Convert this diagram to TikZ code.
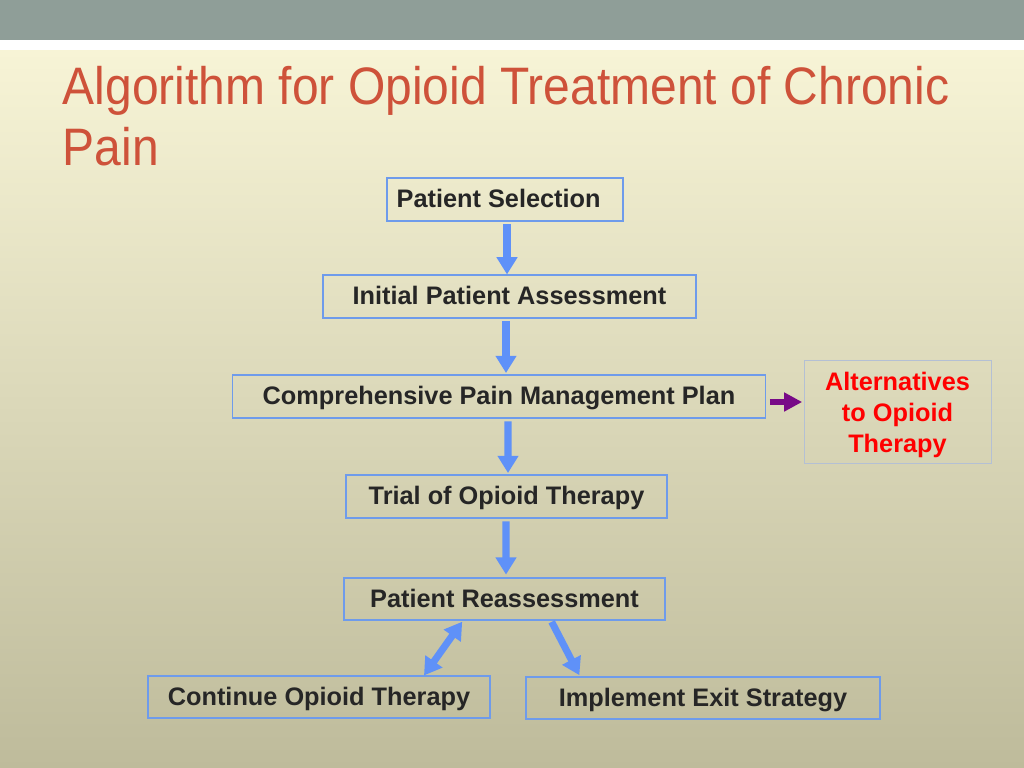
\documentclass[tikz,border=0pt]{standalone}
\usepackage{fontspec}
\setmainfont{Liberation Sans}
\newfontfamily\titlefont[FakeStretch=0.91]{Liberation Sans}
\usetikzlibrary{arrows.meta,calc}

\definecolor{barcol}{RGB}{143,158,152}
\definecolor{bgtop}{RGB}{247,244,214}
\definecolor{bgbot}{RGB}{190,187,155}
\definecolor{titlecol}{RGB}{206,82,58}
\definecolor{boxline}{RGB}{110,155,235}
\definecolor{altline}{RGB}{180,192,212}
\definecolor{flowblue}{RGB}{95,145,248}
\definecolor{flowpurple}{RGB}{120,10,135}

\tikzset{
  stepbox/.style = {draw = boxline, line width = 0.8pt, inner sep = 0pt,
    text height = 13pt, text depth = 1.6pt,
    font = \fontsize{18pt}{21pt}\selectfont\bfseries, text = black!85},
  altbox/.style = {draw = altline, line width = 0.6pt, align = center,
    inner sep = 0pt, font = \fontsize{18pt}{22pt}\selectfont\bfseries, text = red},
  flow/.style = {flowblue, line width = 5pt, -{Triangle[length = 0.43cm, width = 0.5cm]}},
  flowboth/.style = {flow, {Triangle[length = 0.43cm, width = 0.5cm]}-{Triangle[length = 0.43cm, width = 0.5cm]}}
}

\begin{document}
\begin{tikzpicture}[x = 0.025cm, y = -0.025cm]
    \useasboundingbox (0, 0) rectangle (1024, 768);
    \shade [top color = bgtop, bottom color = bgbot] (0, 50) rectangle (1024, 768);
    \fill [white] (0, 40) rectangle (1024, 50);
    \fill [barcol] (0, 0) rectangle (1024, 40);

    \node [anchor = base west, titlecol, font = \titlefont\fontsize{37.5pt}{45pt}\selectfont] (title) at (58, 105) {Algorithm for Opioid Treatment of Chronic};
    \node [anchor = base west, titlecol, font = \titlefont\fontsize{37.5pt}{45pt}\selectfont] (title2) at (58, 165) {Pain};

    \node [stepbox, minimum width = 5.9cm, minimum height = 1.075cm] (select) at (505, 199.5) {\hspace{-9pt}Patient Selection};
    \node [stepbox, minimum width = 9.325cm, minimum height = 1.075cm] (assess) at (509.5, 296.5) {Initial Patient Assessment};
    \node [stepbox, minimum width = 13.3cm, minimum height = 1.075cm] (plan) at (499, 396.5) {Comprehensive Pain Management Plan};
    \node [stepbox, minimum width = 8.025cm, minimum height = 1.075cm] (trial) at (506.5, 496.5) {Trial of Opioid Therapy};
    \node [stepbox, minimum width = 8.025cm, minimum height = 1.05cm] (reass) at (504.5, 599) {Patient Reassessment};
    \node [stepbox, minimum width = 8.55cm, minimum height = 1.05cm] (cont) at (319, 697) {Continue Opioid Therapy};
    \node [stepbox, minimum width = 8.85cm, minimum height = 1.05cm] (exit) at (703, 698) {Implement Exit Strategy};
    \node [altbox, minimum width = 4.675cm, minimum height = 2.575cm] (alt) at (897.5, 411.5) {\raisebox{-3pt}[\height][\depth]{\begin{tabular}{@{}c@{}}Alternatives\\to Opioid\\Therapy\end{tabular}}};

    \draw [flow, shorten < = 2pt] ($(select.south) + (2, 0)$) -- ($(assess.north) + (-2.5, 0)$);
    \draw [flow, shorten < = 2pt, shorten > = 1pt] ($(assess.south) + (-3.5, 0)$) -- ($(plan.north) + (7, 0)$);
    \draw [flow, shorten < = 2pt, shorten > = 1pt] ($(plan.south) + (9, 0)$) -- ($(trial.north) + (1.5, 0)$);
    \draw [flow, shorten < = 2pt, shorten > = 2pt] ($(trial.south) + (-0.5, 0)$) -- ($(reass.north) + (1.5, 0)$);
    \draw [flowboth, shorten < = 1pt] ($(reass.south) + (-41.5, 0)$) -- ($(cont.north) + (105, 0)$);
    \draw [flow, shorten < = 1pt, shorten > = 1pt] ($(reass.south) + (46.5, 0)$) -- ($(exit.north) + (-123, 0)$);
    \draw [flowpurple, line width = 4.2pt, -{Triangle[length = 0.45cm, width = 0.45cm]}, shorten < = 3pt, shorten > = 1pt] ($(plan.east) + (0, 5.5)$) -- ($(alt.west |- plan.east) + (0, 5.5)$);
\end{tikzpicture}
\end{document}
